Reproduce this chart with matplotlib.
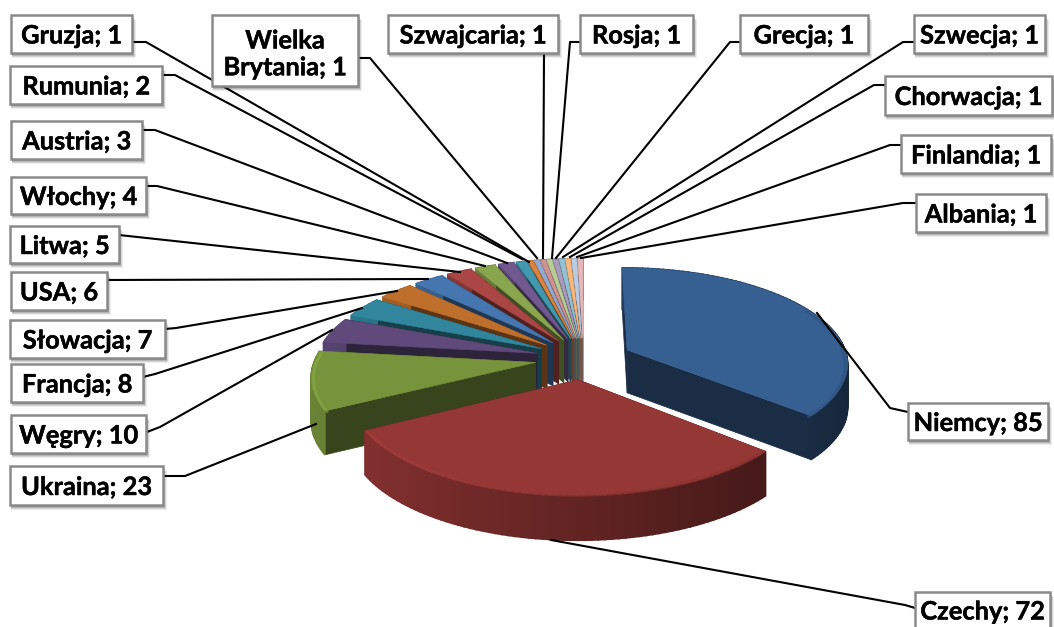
import numpy as np
from matplotlib import pyplot as plt
from matplotlib.patches import Rectangle
from matplotlib import patheffects

kraje = ["Niemcy", "Czechy", "Ukraina", "Węgry", "Francja", "Słowacja", "USA", "Litwa",
         "Włochy", "Austria", "Rumunia", "Gruzja", "Wielka\nBrytania", "Szwajcaria",
         "Rosja", "Grecja", "Szwecja", "Chorwacja", "Finlandia", "Albania"]
wartosci = [85, 72, 23, 10, 8, 7, 6, 5, 4, 3, 2, 1, 1, 1, 1, 1, 1, 1, 1, 1]
kolory = ["#376092", "#953735", "#77933c", "#604a7b", "#31859c", "#bf6f2c", "#4576b0",
          "#aa4643", "#89a54e", "#71588f", "#4198af", "#db843d", "#93a9cf", "#d19392",
          "#b9cd96", "#a99bbd", "#92c3d4", "#fdb77b", "#b8cce4", "#e6b9b8"]

# label boxes in pixels: left, top, right, bottom
ramki = [(908, 403, 1048, 440), (915, 592, 1050, 628), (10, 466, 163, 505), (11, 415, 146, 453),
         (11, 364, 143, 402), (10, 320, 165, 358), (11, 272, 107, 310), (10, 226, 119, 263),
         (11, 177, 146, 214), (11, 121, 142, 159), (10, 66, 162, 104), (11, 15, 132, 53),
         (212, 15, 358, 86), (388, 15, 558, 53), (580, 15, 693, 53), (740, 15, 868, 53),
         (914, 15, 1045, 53), (885, 76, 1052, 115), (901, 135, 1051, 173), (916, 194, 1046, 232)]
# leader lines
linie = [[(908, 412), (890, 408), (817, 313)], [(915, 608), (905, 605), (551, 540)],
         [(163, 476), (185, 476), (316, 424)], [(147, 432), (160, 427), (332, 330)],
         [(143, 377), (155, 374), (362, 308)], [(165, 329), (176, 328), (397, 291)],
         [(107, 280), (428, 279)], [(119, 235), (460, 272)],
         [(146, 186), (157, 186), (485, 266)], [(142, 130), (155, 130), (507, 263)],
         [(162, 75), (175, 75), (522, 259)], [(132, 42), (146, 42), (529, 262)],
         [(358, 58), (370, 58), (537, 258)], [(544, 53), (543, 258)],
         [(580, 42), (570, 42), (552, 258)], [(740, 42), (730, 42), (556, 258)],
         [(914, 42), (903, 42), (563, 257)], [(885, 85), (874, 85), (570, 257)],
         [(901, 145), (890, 145), (577, 257)], [(916, 203), (903, 203), (581, 258)]]

# projection of the tilted pie
X0, Y0 = 583.5, 358.5
R, H, K = 220.5, 94.6, 0.1276
GLEB = 43.0
WYBUCH = 0.22


def rzut(x, y, dol=0.0):
    s = 1.0 / (1.0 + K * y)
    return X0 + R * x * s, Y0 - H * y * s + GLEB * dol * s ** 0.3


def ciemniej(kolor, f):
    c = np.array(plt.matplotlib.colors.to_rgb(kolor)) * f
    return tuple(np.clip(c, 0, 1))


fig = plt.figure(figsize=(10.54, 6.27), dpi=100)
ax = fig.add_axes([0, 0, 1, 1])
ax.set_xlim(0, 1054)
ax.set_ylim(627, 0)
ax.axis("off")

kat = 90.0 - np.cumsum([0] + wartosci) * 360.0 / sum(wartosci)

# back slices first so the front ones cover them
for i in [j for j in range(19, 1, -1)] + [0, 1]:
    a1, a2 = np.radians(kat[i + 1]), np.radians(kat[i])
    srodek = (a1 + a2) / 2
    ox, oy = WYBUCH * np.cos(srodek), WYBUCH * np.sin(srodek)
    t = np.linspace(a1, a2, max(4, int(abs(kat[i] - kat[i + 1]) / 1.5)))
    xa, ya = ox + np.cos(t), oy + np.sin(t)

    # flat sides
    for b in (a1, a2):
        ex, ey = ox + np.cos(b), oy + np.sin(b)
        p = [rzut(ox, oy), rzut(ex, ey), rzut(ex, ey, 1), rzut(ox, oy, 1)]
        ax.fill(*zip(*p), color=ciemniej(kolory[i], 0.47), lw=0.5, zorder=2)

    # round side, shaded by direction
    for n in range(len(t) - 1):
        p = [rzut(xa[n], ya[n]), rzut(xa[n + 1], ya[n + 1]),
             rzut(xa[n + 1], ya[n + 1], 1), rzut(xa[n], ya[n], 1)]
        f = 0.65 - 0.25 * np.cos(t[n])
        ax.fill(*zip(*p), color=ciemniej(kolory[i], f), lw=1.2, zorder=2)

    # top
    p = [rzut(ox, oy)] + [rzut(x, y) for x, y in zip(xa, ya)]
    ax.fill(*zip(*p), color=kolory[i], lw=0.4, zorder=2)

    # soft rim on the big slices
    if wartosci[i] > 20:
        for n in range(len(t) - 1):
            if np.sin(t[n]) > 0.45:
                continue
            f = 1.0 + 0.12 * -np.cos(t[n])
            q = [rzut(ox + 0.99 * np.cos(t[n]), oy + 0.99 * np.sin(t[n]), 0.03),
                 rzut(ox + 0.99 * np.cos(t[n + 1]), oy + 0.99 * np.sin(t[n + 1]), 0.03)]
            ax.plot(*zip(*q), color=ciemniej(kolory[i], f), lw=2.2, alpha=0.6,
                    solid_capstyle="round", zorder=2)

for l in linie:
    ax.plot(*zip(*l), color="black", lw=1.5, solid_joinstyle="round", zorder=3)

for nazwa, w, r in zip(kraje, wartosci, ramki):
    x1, y1, x2, y2 = r
    # shadow
    for d, al in [(5, 0.07), (4, 0.10), (3, 0.14), (2, 0.18)]:
        ax.add_patch(Rectangle((x1 + 1, y1 + d), x2 - x1 + d - 2, y2 - y1, fc="black", ec="none",
                               alpha=al, zorder=4))
    ax.add_patch(Rectangle((x1, y1), x2 - x1, y2 - y1, fc="white", ec="#8a8a8a", lw=1.8, zorder=5))
    tx = ax.text((x1 + x2) / 2, (y1 + y2) / 2, nazwa + "; " + str(w), ha="center", va="center_baseline",
                 family="Lato", weight="bold", fontsize=18.3, color="black", linespacing=1.2, zorder=6)
    tx.set_path_effects([patheffects.withStroke(linewidth=0.3, foreground="black")])

fig.savefig("out.png", dpi=100)
